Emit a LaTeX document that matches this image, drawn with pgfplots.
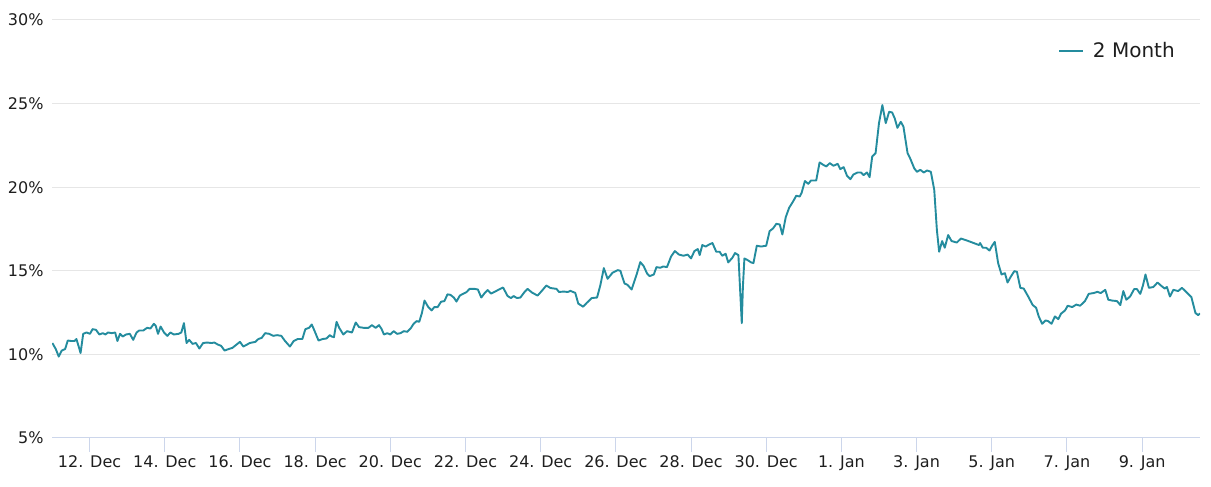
\documentclass[border=0pt]{standalone}
\usepackage{fontspec}
\setmainfont{DejaVu Sans}
\usepackage{pgfplots}
\pgfplotsset{compat=1.18}
\definecolor{serieslc}{RGB}{36,140,158}
\definecolor{gridc}{RGB}{230,230,230}
\definecolor{axisc}{RGB}{204,214,235}
\definecolor{labelc}{RGB}{30,30,30}
\begin{document}
\begin{tikzpicture}
\path[use as bounding box] (0,0) rectangle (1211pt,487pt);
\begin{axis}[
  at={(52pt,49pt)}, anchor=south west,
  width=1148pt, height=418pt, scale only axis,
  xmin=11.0, xmax=41.54, ymin=5, ymax=30,
  axis x line*=bottom, axis y line*=left,
  x axis line style={axisc, line width=1pt},
  y axis line style={draw=none},
  tick align=outside, major tick length=14pt,
  xtick style={axisc, line width=1pt},
  ytick style={draw=none},
  ymajorgrids, grid style={gridc, line width=1pt},
  xtick={12,14,16,18,20,22,24,26,28,30,32,34,36,38,40},
  xticklabels={12. Dec,14. Dec,16. Dec,18. Dec,20. Dec,22. Dec,24. Dec,26. Dec,28. Dec,30. Dec,1. Jan,3. Jan,5. Jan,7. Jan,9. Jan},
  ytick={5,10,15,20,25,30},
  yticklabels={5\%,10\%,15\%,20\%,25\%,30\%},
  ticklabel style={font=\fontsize{16}{19}\selectfont, text=labelc},
  yticklabel style={xshift=9pt},
  legend style={draw=none, fill=none, at={(0.8763,0.9258)}, anchor=west,
    font=\fontsize{20}{24}\selectfont, text=labelc, inner sep=0pt, column sep=9pt,
    nodes={inner sep=0pt}},
  legend image code/.code={\draw[serieslc, line width=1.8pt] (0pt,0pt) -- (24pt,0pt);},
]
\addplot[serieslc, line width=1.9pt, line join=round] coordinates {
(11.01,10.68)(11.10,10.32)(11.18,9.87)(11.26,10.23)(11.35,10.32)(11.42,10.83)(11.51,10.80)(11.60,10.80)(11.65,10.92)(11.73,10.32)(11.76,10.08)(11.83,11.23)(11.92,11.31)(12.01,11.23)(12.08,11.51)(12.17,11.47)(12.26,11.19)(12.35,11.27)(12.42,11.19)(12.49,11.31)(12.59,11.27)(12.68,11.31)(12.74,10.80)(12.81,11.23)(12.88,11.07)(12.97,11.19)(13.07,11.23)(13.16,10.87)(13.25,11.31)(13.32,11.43)(13.43,11.43)(13.53,11.59)(13.62,11.55)(13.71,11.83)(13.76,11.71)(13.82,11.23)(13.89,11.67)(13.98,11.31)(14.07,11.11)(14.15,11.31)(14.24,11.19)(14.37,11.23)(14.44,11.31)(14.51,11.87)(14.58,10.68)(14.65,10.87)(14.74,10.63)(14.83,10.68)(14.92,10.35)(15.02,10.68)(15.13,10.71)(15.24,10.68)(15.32,10.71)(15.41,10.59)(15.50,10.51)(15.59,10.23)(15.70,10.32)(15.80,10.39)(15.91,10.59)(16.00,10.75)(16.09,10.47)(16.19,10.59)(16.26,10.68)
(16.41,10.75)(16.49,10.92)(16.58,10.99)(16.67,11.27)(16.78,11.23)(16.88,11.11)(16.99,11.15)(17.10,11.11)(17.20,10.80)(17.33,10.47)(17.43,10.80)(17.54,10.92)(17.66,10.92)(17.74,11.51)(17.84,11.59)(17.91,11.79)(17.98,11.43)(18.09,10.83)(18.20,10.92)(18.30,10.95)(18.39,11.15)(18.44,11.07)(18.50,11.03)(18.57,11.95)(18.64,11.59)(18.75,11.19)(18.85,11.39)(18.98,11.31)(19.08,11.91)(19.17,11.63)(19.29,11.59)(19.42,11.59)(19.51,11.75)(19.61,11.59)(19.70,11.75)(19.77,11.51)(19.83,11.19)(19.92,11.27)(20.00,11.19)(20.09,11.39)(20.18,11.23)(20.27,11.27)(20.36,11.39)(20.45,11.35)(20.54,11.55)(20.62,11.83)(20.70,11.99)(20.77,11.95)(20.84,12.47)(20.91,13.22)(21.01,12.83)(21.10,12.63)(21.17,12.83)(21.26,12.83)(21.35,13.15)(21.44,13.19)(21.52,13.59)
(21.60,13.56)(21.69,13.40)(21.76,13.16)(21.85,13.52)(21.95,13.64)(22.03,13.73)(22.11,13.92)(22.24,13.92)(22.33,13.88)(22.42,13.40)(22.50,13.64)(22.59,13.85)(22.68,13.64)(22.79,13.76)(22.89,13.88)(23.00,14.00)(23.12,13.49)(23.21,13.37)(23.28,13.49)(23.37,13.37)(23.46,13.40)(23.57,13.73)(23.65,13.92)(23.78,13.68)(23.92,13.52)(24.05,13.85)(24.15,14.12)(24.26,13.97)(24.42,13.92)(24.49,13.73)(24.61,13.76)(24.72,13.73)(24.79,13.80)(24.92,13.68)(25.00,13.04)(25.13,12.85)(25.23,13.09)(25.36,13.37)(25.50,13.40)(25.59,14.16)(25.68,15.16)(25.78,14.52)(25.91,14.88)(26.05,15.04)(26.12,15.00)(26.23,14.24)(26.31,14.16)(26.42,13.88)(26.55,14.76)(26.65,15.52)(26.74,15.28)(26.83,14.84)(26.90,14.68)
(27.01,14.78)(27.08,15.22)(27.18,15.18)(27.26,15.26)(27.36,15.22)(27.47,15.86)(27.57,16.18)(27.68,15.97)(27.80,15.90)(27.91,15.97)(28.00,15.74)(28.09,16.18)(28.18,16.30)(28.23,15.94)(28.30,16.54)(28.39,16.45)(28.48,16.57)(28.57,16.66)(28.67,16.14)(28.76,16.14)(28.83,15.90)(28.92,16.02)(28.99,15.50)(29.10,15.78)(29.17,16.06)(29.26,15.94)(29.31,13.67)(29.35,11.87)(29.38,14.06)(29.42,15.74)(29.52,15.62)(29.60,15.50)(29.66,15.46)(29.75,16.50)(29.86,16.45)(30.00,16.50)(30.09,17.37)(30.18,17.53)(30.27,17.81)(30.36,17.77)(30.43,17.17)(30.52,18.21)(30.61,18.77)(30.71,19.13)(30.80,19.49)(30.89,19.44)(30.94,19.65)(31.03,20.37)(31.12,20.20)(31.19,20.40)(31.33,20.40)(31.42,21.48)(31.53,21.32)(31.60,21.24)(31.69,21.44)(31.79,21.28)(31.90,21.40)(31.97,21.08)(32.06,21.20)(32.15,20.68)(32.24,20.48)(32.32,20.76)(32.43,20.88)(32.52,20.88)(32.59,20.72)(32.68,20.88)(32.75,20.60)(32.82,21.84)(32.91,22.04)(33.00,23.83)(33.09,24.91)(33.18,23.83)(33.27,24.51)(33.35,24.47)(33.42,24.11)(33.49,23.55)(33.58,23.91)(33.65,23.63)(33.76,22.04)(33.83,21.72)(33.94,21.12)(34.01,20.92)(34.10,21.04)(34.19,20.88)(34.28,21.00)(34.38,20.92)(34.47,19.84)(34.54,17.45)(34.60,16.14)(34.68,16.78)(34.75,16.38)(34.84,17.14)(34.93,16.78)(35.07,16.69)(35.18,16.93)(35.34,16.81)(35.52,16.66)(35.66,16.54)(35.69,16.66)(35.76,16.38)(35.85,16.38)(35.94,16.21)(36.01,16.50)(36.08,16.73)(36.17,15.46)(36.26,14.78)(36.35,14.86)(36.42,14.30)(36.51,14.66)(36.60,14.98)(36.67,14.94)(36.76,13.98)(36.85,13.94)(36.97,13.46)(37.09,12.95)(37.18,12.79)(37.25,12.27)(37.34,11.83)(37.43,12.03)(37.50,11.99)(37.59,11.83)(37.68,12.27)(37.77,12.11)(37.84,12.43)(37.95,12.63)(38.02,12.91)(38.14,12.83)(38.25,12.98)(38.35,12.91)(38.48,13.19)(38.58,13.62)(38.71,13.67)(38.81,13.74)(38.90,13.67)(39.02,13.86)(39.10,13.27)(39.20,13.22)(39.33,13.19)(39.42,12.95)(39.50,13.79)(39.58,13.27)(39.68,13.46)(39.79,13.91)(39.86,13.91)(39.95,13.62)(40.02,14.10)(40.09,14.78)(40.18,13.98)(40.30,14.03)(40.41,14.30)(40.51,14.10)(40.60,13.94)(40.66,14.03)(40.74,13.46)(40.83,13.86)(40.96,13.79)(41.06,13.98)(41.17,13.74)(41.31,13.43)(41.42,12.47)(41.49,12.35)(41.54,12.45)
};
\addlegendentry{2 Month}
\end{axis}
\end{tikzpicture}
\end{document}
